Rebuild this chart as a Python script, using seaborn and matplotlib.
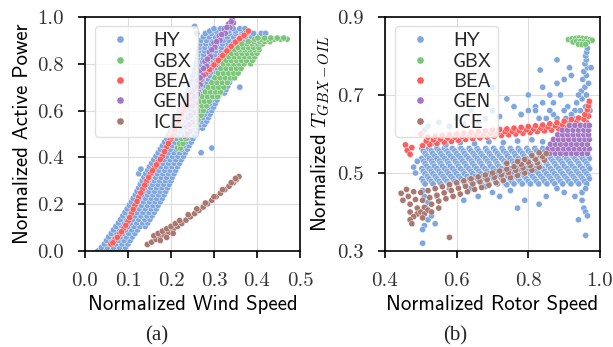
import matplotlib
matplotlib.use("Agg")
import matplotlib.pyplot as plt
import pandas as pd
import seaborn as sns

SERIES = ["HY", "GBX", "BEA", "GEN", "ICE"]
COLORS = ["#7fa7dd", "#7cc679", "#ff5c5c", "#a477c4", "#a97870"]

# ---------------- panel (a): wind speed vs active power ----------------
HY_A_ROWS = [
    (0.00, [0.030, 0.045, 0.060, 0.075, 0.090]),
    (0.015, [0.038, 0.052, 0.066, 0.080, 0.094]),
    (0.03, [0.045, 0.058, 0.072, 0.086, 0.100]),
    (0.045, [0.050, 0.063, 0.077, 0.091, 0.105]),
    (0.06, [0.055, 0.068, 0.082, 0.096, 0.110]),
    (0.075, [0.061, 0.074, 0.088, 0.102, 0.116]),
    (0.09, [0.066, 0.080, 0.094, 0.108, 0.122]),
    (0.105, [0.072, 0.086, 0.100, 0.114, 0.128, 0.140]),
    (0.12, [0.078, 0.092, 0.106, 0.120, 0.134, 0.146]),
    (0.135, [0.083, 0.097, 0.111, 0.125, 0.139, 0.151]),
    (0.15, [0.088, 0.102, 0.116, 0.130, 0.144, 0.156]),
    (0.165, [0.093, 0.107, 0.121, 0.135, 0.149, 0.161]),
    (0.18, [0.098, 0.112, 0.126, 0.140, 0.154, 0.166]),
    (0.195, [0.103, 0.117, 0.131, 0.145, 0.158, 0.170]),
    (0.21, [0.108, 0.122, 0.136, 0.150, 0.163, 0.175]),
    (0.225, [0.112, 0.126, 0.140, 0.154, 0.167, 0.180]),
    (0.24, [0.117, 0.131, 0.145, 0.158, 0.171, 0.184]),
    (0.255, [0.121, 0.135, 0.149, 0.162, 0.175, 0.188]),
    (0.27, [0.125, 0.139, 0.153, 0.166, 0.179, 0.192]),
    (0.285, [0.129, 0.143, 0.157, 0.170, 0.183, 0.196]),
    (0.30, [0.133, 0.147, 0.161, 0.174, 0.187, 0.200]),
    (0.315, [0.137, 0.151, 0.164, 0.177, 0.190, 0.203]),
    (0.33, [0.141, 0.155, 0.168, 0.181, 0.194, 0.207]),
    (0.345, [0.146, 0.159, 0.172, 0.185, 0.198, 0.211]),
    (0.36, [0.150, 0.163, 0.176, 0.189, 0.202, 0.215]),
    (0.375, [0.155, 0.168, 0.181, 0.194, 0.207, 0.220]),
    (0.39, [0.160, 0.172, 0.185, 0.198, 0.211, 0.224]),
    (0.405, [0.165, 0.177, 0.190, 0.203, 0.216, 0.229]),
    (0.42, [0.170, 0.182, 0.194, 0.207, 0.220, 0.233]),
    (0.435, [0.175, 0.187, 0.199, 0.212, 0.225, 0.238]),
    (0.45, [0.180, 0.192, 0.204, 0.216, 0.229, 0.242]),
    (0.465, [0.185, 0.197, 0.209, 0.221, 0.234, 0.247]),
    (0.48, [0.190, 0.202, 0.214, 0.226, 0.238, 0.251]),
    (0.495, [0.194, 0.206, 0.218, 0.230, 0.242, 0.255]),
    (0.51, [0.198, 0.210, 0.222, 0.234, 0.246, 0.259]),
    (0.525, [0.202, 0.214, 0.226, 0.238, 0.250, 0.263, 0.273]),
    (0.54, [0.206, 0.218, 0.230, 0.242, 0.254, 0.267, 0.278]),
    (0.555, [0.210, 0.222, 0.234, 0.246, 0.258, 0.271, 0.283]),
    (0.57, [0.213, 0.225, 0.237, 0.249, 0.262, 0.275, 0.287]),
    (0.585, [0.217, 0.229, 0.241, 0.253, 0.266, 0.279, 0.291]),
    (0.60, [0.220, 0.232, 0.244, 0.257, 0.270, 0.283, 0.295]),
    (0.615, [0.224, 0.236, 0.248, 0.261, 0.274, 0.287, 0.299]),
    (0.63, [0.227, 0.239, 0.251, 0.264, 0.277, 0.290, 0.303]),
    (0.645, [0.231, 0.243, 0.255, 0.268, 0.281, 0.294, 0.307]),
    (0.66, [0.234, 0.246, 0.258, 0.271, 0.284, 0.297, 0.310]),
    (0.675, [0.237, 0.249, 0.262, 0.275, 0.288, 0.301, 0.314, 0.324]),
    (0.69, [0.240, 0.252, 0.265, 0.278, 0.291, 0.304, 0.317, 0.328]),
    (0.705, [0.243, 0.255, 0.268, 0.281, 0.294, 0.307, 0.320, 0.332]),
    (0.72, [0.246, 0.258, 0.271, 0.284, 0.297, 0.310, 0.323, 0.336]),
    (0.735, [0.249, 0.261, 0.274, 0.287, 0.300, 0.313, 0.326, 0.339]),
    (0.75, [0.251, 0.264, 0.277, 0.290, 0.303, 0.316, 0.329, 0.342]),
    (0.765, [0.254, 0.267, 0.280, 0.293, 0.306, 0.319, 0.332, 0.345, 0.355]),
    (0.78, [0.256, 0.269, 0.282, 0.295, 0.308, 0.321, 0.334, 0.347, 0.358]),
    (0.795, [0.258, 0.271, 0.284, 0.297, 0.310, 0.323, 0.336, 0.349, 0.361]),
    (0.81, [0.260, 0.273, 0.286, 0.299, 0.312, 0.325, 0.338, 0.351, 0.364]),
    (0.825, [0.262, 0.275, 0.288, 0.301, 0.314, 0.327, 0.340, 0.353, 0.366, 0.375]),
    (0.84, [0.263, 0.276, 0.289, 0.302, 0.315, 0.328, 0.341, 0.354, 0.367, 0.378]),
    (0.855, [0.265, 0.278, 0.291, 0.304, 0.317, 0.330, 0.343, 0.356, 0.369, 0.381]),
    (0.87, [0.266, 0.279, 0.292, 0.305, 0.318, 0.331, 0.344, 0.357, 0.370, 0.383]),
    (0.885, [0.268, 0.281, 0.294, 0.307, 0.320, 0.333, 0.346, 0.359, 0.372, 0.386, 0.398]),
    (0.90, [0.270, 0.283, 0.296, 0.309, 0.322, 0.335, 0.348, 0.361, 0.374, 0.388, 0.400]),
    (0.915, [0.275, 0.289, 0.303, 0.317, 0.331, 0.345, 0.359, 0.373, 0.387, 0.402]),
    (0.93, [0.280, 0.294, 0.308, 0.322, 0.336, 0.350, 0.364, 0.378, 0.392, 0.410]),
    (0.94, [0.290, 0.305, 0.320, 0.335, 0.350, 0.365, 0.380]),
    (0.95, [0.300, 0.315, 0.330, 0.345, 0.360, 0.372]),
]
HY_A_EXTRA = [(0.255, 0.96), (0.26, 0.93), (0.125, 0.33), (0.13, 0.35), (0.27, 0.42),
              (0.295, 0.44), (0.39, 0.86), (0.40, 0.88), (0.42, 0.93), (0.36, 0.70)]

GBX_A_ROWS = [
    (0.44, [0.215, 0.222]),
    (0.46, [0.220, 0.228]),
    (0.48, [0.225, 0.235]),
    (0.50, [0.230, 0.240]),
    (0.52, [0.235, 0.245]),
    (0.54, [0.240, 0.250, 0.258]),
    (0.56, [0.245, 0.255, 0.263]),
    (0.58, [0.250, 0.260, 0.270]),
    (0.60, [0.255, 0.265, 0.275]),
    (0.62, [0.261, 0.272, 0.283]),
    (0.64, [0.267, 0.278, 0.289]),
    (0.66, [0.273, 0.285, 0.297, 0.308]),
    (0.68, [0.280, 0.292, 0.304, 0.315]),
    (0.70, [0.287, 0.299, 0.311, 0.323]),
    (0.72, [0.295, 0.307, 0.319, 0.331]),
    (0.74, [0.302, 0.314, 0.326, 0.338, 0.348]),
    (0.76, [0.310, 0.322, 0.334, 0.346, 0.356]),
    (0.78, [0.316, 0.328, 0.340, 0.352, 0.363]),
    (0.80, [0.322, 0.334, 0.346, 0.358, 0.370, 0.385]),
    (0.815, [0.328, 0.340, 0.352, 0.364, 0.376, 0.390]),
    (0.83, [0.335, 0.347, 0.359, 0.371, 0.383, 0.395]),
    (0.845, [0.341, 0.353, 0.365, 0.377, 0.389, 0.400]),
    (0.86, [0.348, 0.360, 0.372, 0.384, 0.396, 0.405]),
    (0.87, [0.356, 0.368, 0.380, 0.392, 0.404]),
    (0.885, [0.365, 0.377, 0.389, 0.401, 0.413]),
    (0.895, [0.380, 0.393, 0.406, 0.418, 0.430]),
    (0.905, [0.395, 0.410, 0.425, 0.440, 0.455, 0.470]),
    (0.91, [0.402, 0.418, 0.432, 0.447, 0.462]),
]

BEA_A = [(0.060, 0.030), (0.070, 0.050), (0.080, 0.072), (0.090, 0.097), (0.100, 0.127),
         (0.108, 0.160), (0.116, 0.195), (0.125, 0.230), (0.134, 0.265), (0.143, 0.298),
         (0.152, 0.330), (0.161, 0.355), (0.170, 0.380), (0.180, 0.405), (0.190, 0.445),
         (0.198, 0.475), (0.205, 0.500), (0.213, 0.535), (0.220, 0.565), (0.228, 0.600),
         (0.236, 0.630), (0.245, 0.660), (0.255, 0.690), (0.265, 0.720), (0.275, 0.745),
         (0.285, 0.765), (0.295, 0.785), (0.305, 0.805), (0.315, 0.825), (0.325, 0.845),
         (0.335, 0.865), (0.345, 0.885), (0.355, 0.900), (0.365, 0.915), (0.375, 0.930),
         (0.380, 0.940),
         (0.065, 0.035), (0.075, 0.058), (0.085, 0.082), (0.095, 0.110), (0.104, 0.143),
         (0.112, 0.178), (0.121, 0.212), (0.130, 0.248), (0.139, 0.282), (0.148, 0.315),
         (0.157, 0.343), (0.166, 0.368), (0.175, 0.392), (0.185, 0.425), (0.194, 0.460),
         (0.202, 0.488), (0.209, 0.518), (0.217, 0.550), (0.224, 0.583), (0.232, 0.615),
         (0.240, 0.645), (0.250, 0.675), (0.260, 0.705), (0.270, 0.733), (0.280, 0.755),
         (0.290, 0.775), (0.300, 0.795), (0.310, 0.815), (0.320, 0.835), (0.330, 0.855),
         (0.340, 0.875), (0.350, 0.893), (0.360, 0.908), (0.370, 0.922)]

GEN_A = [(0.232, 0.49), (0.236, 0.53), (0.240, 0.57), (0.244, 0.61), (0.249, 0.65),
         (0.255, 0.69), (0.262, 0.73), (0.270, 0.77), (0.279, 0.81), (0.289, 0.85),
         (0.300, 0.89), (0.312, 0.92), (0.324, 0.95), (0.334, 0.97), (0.342, 0.99),
         (0.244, 0.51), (0.249, 0.55), (0.253, 0.59), (0.257, 0.63), (0.262, 0.67),
         (0.268, 0.71), (0.275, 0.75), (0.283, 0.79), (0.292, 0.83), (0.302, 0.87),
         (0.314, 0.90), (0.326, 0.93), (0.337, 0.955), (0.345, 0.975),
         (0.238, 0.50), (0.242, 0.54), (0.246, 0.58), (0.250, 0.62), (0.255, 0.66),
         (0.261, 0.70), (0.268, 0.74), (0.276, 0.78), (0.285, 0.82), (0.295, 0.86),
         (0.306, 0.895), (0.318, 0.925), (0.330, 0.955), (0.340, 0.98)]

ICE_A = [(0.145, 0.028), (0.155, 0.038), (0.165, 0.050), (0.175, 0.060), (0.185, 0.068),
         (0.195, 0.080), (0.205, 0.092), (0.215, 0.105), (0.225, 0.118), (0.235, 0.132),
         (0.245, 0.146), (0.255, 0.160), (0.265, 0.174), (0.275, 0.188), (0.285, 0.202),
         (0.295, 0.217), (0.305, 0.232), (0.315, 0.247), (0.325, 0.262), (0.335, 0.277),
         (0.345, 0.292), (0.352, 0.305), (0.358, 0.318),
         (0.160, 0.065), (0.170, 0.075), (0.180, 0.085), (0.190, 0.095), (0.200, 0.105),
         (0.210, 0.117), (0.220, 0.130), (0.240, 0.155), (0.260, 0.180), (0.280, 0.205),
         (0.300, 0.232), (0.320, 0.262), (0.340, 0.292), (0.350, 0.310),
         (0.175, 0.045), (0.190, 0.058), (0.205, 0.075)]

# ---------------- panel (b): rotor speed vs gearbox oil temperature ----------------
HY_B_ROWS = [
    (0.563, [0.503, 0.522, 0.545, 0.566, 0.588, 0.612, 0.635, 0.657, 0.681, 0.703, 0.727,
             0.750, 0.772, 0.796, 0.818, 0.840]),
    (0.5565, [0.507, 0.529, 0.551, 0.573, 0.595, 0.618, 0.640, 0.662, 0.685, 0.708, 0.731,
              0.754, 0.777, 0.800, 0.823, 0.846]),
    (0.550, [0.512, 0.533, 0.556, 0.577, 0.600, 0.622, 0.646, 0.668, 0.691, 0.714, 0.738,
             0.761, 0.784, 0.807, 0.829, 0.852, 0.874, 0.896, 0.918, 0.940, 0.962]),
    (0.5435, [0.517, 0.539, 0.561, 0.583, 0.606, 0.628, 0.651, 0.673, 0.696, 0.719, 0.742,
              0.765, 0.788, 0.811, 0.834, 0.857, 0.879, 0.901, 0.924, 0.946, 0.967]),
    (0.537, [0.502, 0.523, 0.545, 0.567, 0.590, 0.612, 0.634, 0.657, 0.680, 0.702, 0.726,
             0.749, 0.772, 0.795, 0.818, 0.841, 0.863, 0.885, 0.907, 0.930, 0.952, 0.970]),
    (0.5305, [0.508, 0.530, 0.552, 0.574, 0.596, 0.617, 0.641, 0.663, 0.686, 0.709, 0.732,
              0.755, 0.778, 0.801, 0.824, 0.847, 0.869, 0.891, 0.913, 0.936, 0.958]),
    (0.524, [0.512, 0.534, 0.556, 0.578, 0.601, 0.623, 0.645, 0.668, 0.691, 0.713, 0.737,
             0.760, 0.783, 0.806, 0.829, 0.851, 0.874, 0.896, 0.918, 0.941, 0.963]),
    (0.5175, [0.516, 0.538, 0.560, 0.582, 0.605, 0.627, 0.650, 0.672, 0.695, 0.718, 0.741,
              0.764, 0.787, 0.810, 0.833, 0.856, 0.878, 0.900, 0.923, 0.945, 0.967]),
    (0.511, [0.503, 0.523, 0.545, 0.567, 0.589, 0.611, 0.634, 0.656, 0.679, 0.702, 0.725,
             0.748, 0.772, 0.795, 0.818, 0.840, 0.862, 0.885, 0.908, 0.930, 0.952, 0.971]),
    (0.5045, [0.507, 0.529, 0.551, 0.573, 0.595, 0.618, 0.640, 0.662, 0.685, 0.708, 0.731,
              0.754, 0.777, 0.800, 0.823, 0.846, 0.868, 0.890, 0.913, 0.935, 0.957]),
    (0.498, [0.512, 0.534, 0.556, 0.578, 0.600, 0.622, 0.645, 0.667, 0.690, 0.713, 0.736,
             0.759, 0.783, 0.806, 0.829, 0.851, 0.873, 0.896, 0.919, 0.941, 0.963]),
    (0.4915, [0.518, 0.540, 0.562, 0.584, 0.606, 0.629, 0.652, 0.674, 0.697, 0.720, 0.743,
              0.766, 0.789, 0.812, 0.835, 0.858, 0.880, 0.902, 0.925, 0.947, 0.968]),
    (0.485, [0.503, 0.523, 0.545, 0.567, 0.590, 0.612, 0.635, 0.657, 0.680, 0.703, 0.726,
             0.749, 0.772, 0.795, 0.818, 0.841, 0.863, 0.885, 0.908, 0.930, 0.952, 0.970]),
    (0.4785, [0.507, 0.529, 0.551, 0.573, 0.595, 0.618, 0.640, 0.662, 0.685, 0.708, 0.731,
              0.754, 0.777, 0.800, 0.823, 0.846, 0.868, 0.890, 0.913, 0.935, 0.957]),
    (0.472, [0.512, 0.534, 0.556, 0.578, 0.601, 0.623, 0.646, 0.668, 0.690, 0.714, 0.737,
             0.760, 0.783, 0.806, 0.829, 0.852, 0.874, 0.896, 0.919, 0.941, 0.963]),
]
HY_B_EXTRA = [
    # below the block
    (0.505, 0.455), (0.510, 0.440), (0.520, 0.425), (0.515, 0.410), (0.505, 0.390),
    (0.520, 0.380), (0.510, 0.365), (0.505, 0.355), (0.530, 0.390), (0.540, 0.370),
    (0.505, 0.320), (0.545, 0.440), (0.620, 0.430), (0.660, 0.440), (0.700, 0.450),
    (0.720, 0.440), (0.750, 0.455), (0.770, 0.410), (0.790, 0.430), (0.830, 0.420),
    (0.850, 0.440), (0.880, 0.460), (0.900, 0.450), (0.930, 0.440), (0.950, 0.430),
    (0.955, 0.410), (0.960, 0.400), (0.965, 0.390), (0.950, 0.450), (0.960, 0.460),
    (0.940, 0.380), (0.960, 0.340), (0.580, 0.460), (0.640, 0.460), (0.740, 0.470),
    (0.680, 0.465), (0.480, 0.515), (0.490, 0.530), (0.485, 0.500),
    # between block and BEA band
    (0.530, 0.575), (0.570, 0.572), (0.610, 0.578), (0.650, 0.575), (0.690, 0.580),
    (0.730, 0.578), (0.770, 0.582), (0.810, 0.585), (0.840, 0.580),
    # spike near rated rotor speed
    (0.955, 0.640), (0.965, 0.650), (0.945, 0.660), (0.960, 0.670), (0.970, 0.680),
    (0.950, 0.690), (0.962, 0.700), (0.948, 0.710), (0.958, 0.720), (0.968, 0.730),
    (0.952, 0.740), (0.962, 0.750), (0.955, 0.760), (0.965, 0.770), (0.958, 0.780),
    (0.962, 0.790), (0.960, 0.800), (0.963, 0.810), (0.965, 0.820), (0.972, 0.660),
    (0.975, 0.770), (0.940, 0.700), (0.935, 0.680), (0.930, 0.660), (0.925, 0.640),
    (0.920, 0.650), (0.910, 0.670), (0.905, 0.640), (0.900, 0.660), (0.890, 0.700),
    (0.880, 0.640), (0.870, 0.650), (0.860, 0.660), (0.850, 0.640), (0.840, 0.680),
    (0.880, 0.730), (0.900, 0.740), (0.860, 0.700), (0.915, 0.770), (0.920, 0.750),
    (0.840, 0.720), (0.820, 0.670), (0.800, 0.660), (0.780, 0.650), (0.870, 0.680),
    # scattered above the BEA band
    (0.510, 0.610), (0.520, 0.620), (0.550, 0.630), (0.580, 0.620), (0.600, 0.640),
    (0.620, 0.625), (0.640, 0.660), (0.660, 0.630), (0.680, 0.640), (0.700, 0.660),
    (0.720, 0.645), (0.740, 0.690), (0.760, 0.670), (0.780, 0.650), (0.800, 0.700),
    (0.820, 0.660), (0.830, 0.640), (0.700, 0.720), (0.833, 0.764), (0.880, 0.790),
]

BEA_B = [
    (0.505, 0.570), (0.525, 0.573), (0.545, 0.576), (0.565, 0.579), (0.585, 0.581),
    (0.605, 0.584), (0.625, 0.586), (0.645, 0.588), (0.665, 0.590), (0.685, 0.592),
    (0.705, 0.594), (0.725, 0.596), (0.745, 0.598), (0.765, 0.600), (0.785, 0.602),
    (0.805, 0.604), (0.825, 0.606), (0.845, 0.608), (0.865, 0.610), (0.885, 0.613),
    (0.905, 0.616), (0.925, 0.619), (0.945, 0.622), (0.962, 0.630),
    (0.515, 0.582), (0.535, 0.585), (0.555, 0.587), (0.575, 0.590), (0.595, 0.592),
    (0.615, 0.594), (0.635, 0.596), (0.655, 0.598), (0.675, 0.600), (0.695, 0.602),
    (0.715, 0.604), (0.735, 0.606), (0.755, 0.607), (0.775, 0.609), (0.795, 0.611),
    (0.815, 0.613), (0.835, 0.615), (0.855, 0.618), (0.875, 0.621), (0.895, 0.624),
    (0.915, 0.628), (0.935, 0.632), (0.955, 0.638), (0.968, 0.646),
    (0.520, 0.592), (0.540, 0.594), (0.560, 0.596), (0.580, 0.598), (0.600, 0.600),
    (0.620, 0.602), (0.640, 0.604), (0.660, 0.606), (0.680, 0.608), (0.700, 0.610),
    (0.720, 0.612), (0.740, 0.613), (0.760, 0.615), (0.780, 0.617), (0.800, 0.619),
    (0.820, 0.621), (0.840, 0.623), (0.860, 0.626), (0.880, 0.629), (0.900, 0.633),
    (0.920, 0.637), (0.940, 0.641), (0.958, 0.650), (0.965, 0.662), (0.968, 0.672),
    (0.970, 0.684),
    (0.457, 0.572), (0.462, 0.558), (0.470, 0.548), (0.475, 0.565), (0.500, 0.600),
]

GEN_B_ROWS = [
    (0.550, [0.860, 0.875, 0.890, 0.905, 0.920, 0.935, 0.950, 0.965]),
    (0.562, [0.855, 0.868, 0.883, 0.898, 0.913, 0.928, 0.943, 0.958, 0.970]),
    (0.574, [0.862, 0.876, 0.890, 0.905, 0.920, 0.935, 0.950, 0.965]),
    (0.586, [0.870, 0.884, 0.898, 0.913, 0.928, 0.943, 0.958, 0.970]),
    (0.598, [0.882, 0.896, 0.910, 0.925, 0.940, 0.955, 0.968]),
    (0.610, [0.895, 0.910, 0.925, 0.940, 0.955, 0.968]),
    (0.622, [0.915, 0.930, 0.945, 0.960, 0.970]),
]

ICE_B = [
    (0.450, 0.430), (0.470, 0.420), (0.490, 0.410), (0.510, 0.412), (0.530, 0.420),
    (0.550, 0.428), (0.570, 0.434), (0.590, 0.440), (0.610, 0.446), (0.630, 0.452),
    (0.650, 0.458), (0.670, 0.463), (0.690, 0.469), (0.710, 0.475), (0.730, 0.481),
    (0.750, 0.488), (0.770, 0.494), (0.790, 0.500), (0.810, 0.507), (0.830, 0.515),
    (0.445, 0.448), (0.465, 0.440), (0.485, 0.432), (0.505, 0.430), (0.525, 0.437),
    (0.545, 0.443), (0.565, 0.449), (0.585, 0.455), (0.605, 0.461), (0.625, 0.466),
    (0.645, 0.472), (0.665, 0.478), (0.685, 0.483), (0.705, 0.489), (0.725, 0.495),
    (0.745, 0.501), (0.765, 0.507), (0.785, 0.513), (0.805, 0.519), (0.825, 0.526),
    (0.845, 0.533),
    (0.460, 0.458), (0.480, 0.452), (0.500, 0.450), (0.520, 0.455), (0.540, 0.460),
    (0.560, 0.465), (0.580, 0.470), (0.600, 0.475), (0.620, 0.480), (0.640, 0.485),
    (0.660, 0.490), (0.680, 0.495), (0.700, 0.500), (0.720, 0.505), (0.740, 0.510),
    (0.760, 0.516), (0.780, 0.522), (0.800, 0.528), (0.820, 0.535), (0.840, 0.542),
    (0.850, 0.550),
    (0.470, 0.400), (0.490, 0.395), (0.500, 0.400), (0.510, 0.395), (0.520, 0.405),
    (0.480, 0.388), (0.505, 0.385), (0.470, 0.380), (0.475, 0.370), (0.580, 0.335),
    (0.530, 0.400), (0.550, 0.410),
    (0.790, 0.535), (0.810, 0.545), (0.770, 0.530), (0.740, 0.525), (0.830, 0.552),
]

GBX_B = [(0.912, 0.842), (0.922, 0.844), (0.932, 0.845), (0.942, 0.846), (0.952, 0.845),
         (0.962, 0.844), (0.972, 0.842), (0.978, 0.840), (0.925, 0.836), (0.935, 0.838),
         (0.945, 0.837), (0.955, 0.836), (0.965, 0.835), (0.940, 0.830), (0.950, 0.829),
         (0.960, 0.830)]


def rows_to_points(rows):
    return [(x, y) for y, xs in rows for x in xs]


def frame(groups):
    recs = []
    for name, pts in groups:
        recs += [{"x": x, "y": y, "series": name} for x, y in pts]
    return pd.DataFrame(recs)


df_a = frame([("HY", rows_to_points(HY_A_ROWS) + HY_A_EXTRA),
              ("GBX", rows_to_points(GBX_A_ROWS)),
              ("BEA", BEA_A), ("GEN", GEN_A), ("ICE", ICE_A)])
df_b = frame([("HY", rows_to_points(HY_B_ROWS) + HY_B_EXTRA),
              ("GBX", GBX_B), ("BEA", BEA_B),
              ("GEN", rows_to_points(GEN_B_ROWS)), ("ICE", ICE_B)])

sns.set_theme(style="whitegrid")
plt.rcParams["mathtext.fontset"] = "cm"

fig = plt.figure(figsize=(6.13, 3.47), dpi=100)
W, H = 613, 347
ax1 = fig.add_axes([85 / W, (H - 251) / H, 215 / W, 234 / H])
ax2 = fig.add_axes([385 / W, (H - 251) / H, 215 / W, 234 / H])

for ax, df in ((ax1, df_a), (ax2, df_b)):
    sns.scatterplot(data=df, x="x", y="y", hue="series", hue_order=SERIES,
                    palette=COLORS, s=20, linewidth=0.3, edgecolor="white",
                    ax=ax, legend=True)

ax1.set_xlim(0, 0.5)
ax1.set_ylim(0, 1.0)
ax1.set_xticks([0.0, 0.1, 0.2, 0.3, 0.4, 0.5])
ax1.set_yticks([0.0, 0.2, 0.4, 0.6, 0.8, 1.0])
ax2.set_xlim(0.4, 1.0)
ax2.set_ylim(0.3, 0.9)
ax2.set_xticks([0.4, 0.6, 0.8, 1.0])
ax2.set_yticks([0.3, 0.5, 0.7, 0.9])

lab_kw = dict(fontfamily="cmss10", fontsize=15, color="black")
ax1.set_xlabel("Normalized Wind Speed", labelpad=4, **lab_kw)
ax1.set_ylabel("Normalized Active Power", labelpad=4, **lab_kw)
ax2.set_xlabel("Normalized Rotor Speed", labelpad=4, **lab_kw)
ax2.set_ylabel(r"Normalized $T_{GBX-OIL}$", labelpad=4, **lab_kw)

for ax in (ax1, ax2):
    ax.grid(True, color="#dcdcdc", linewidth=0.8)
    ax.set_axisbelow(True)
    for sp in ax.spines.values():
        sp.set_color("black")
        sp.set_linewidth(1.2)
    ax.tick_params(axis="both", which="major", direction="out", length=5, width=1.2,
                   color="black", bottom=True, left=True, labelsize=15,
                   labelcolor="#333333", labelfontfamily="cmr10", pad=10)
    handles, labels = ax.get_legend_handles_labels()
    ax.legend(handles, labels, loc="upper left", bbox_to_anchor=(0.045, 0.96),
              borderaxespad=0, frameon=True, fancybox=True, framealpha=0.8,
              edgecolor="#d8d8d8", markerscale=1.15, handletextpad=0.7,
              handlelength=2.0, labelspacing=0.12, borderpad=0.3,
              prop={"family": "cmss10", "size": 14})

fig.text(157 / W, 1 - 336 / H, "(a)", ha="center", va="center",
         fontfamily="Liberation Serif", fontsize=15)
fig.text(455 / W, 1 - 336 / H, "(b)", ha="center", va="center",
         fontfamily="Liberation Serif", fontsize=15)

fig.savefig("out.png", dpi=100)
